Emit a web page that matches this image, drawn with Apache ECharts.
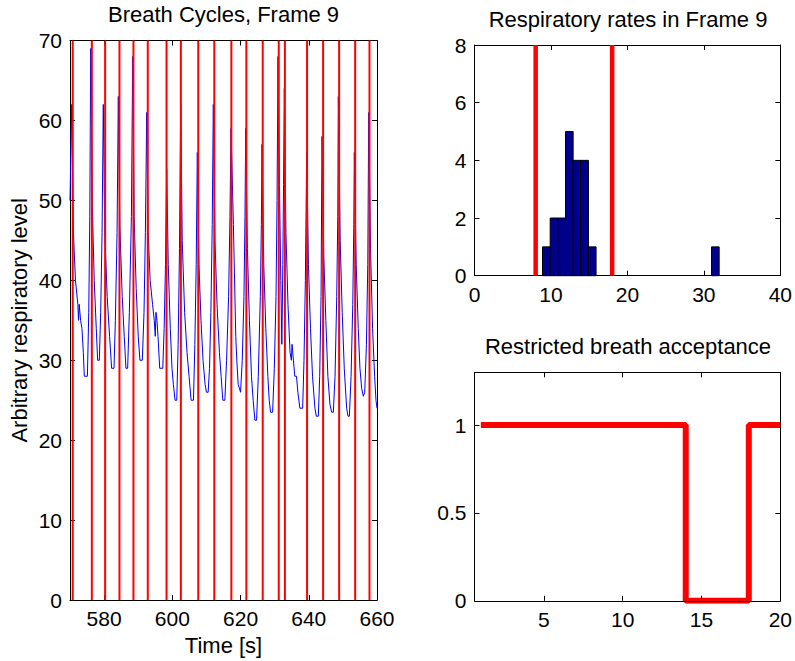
<!DOCTYPE html>
<html><head><meta charset="utf-8">
<script src="https://cdn.jsdelivr.net/npm/echarts@6/dist/echarts.min.js"></script>
<style>html,body{margin:0;padding:0;background:#fff}#c{width:795px;height:661px}</style>
</head><body><div id="c"></div>
<script>
// ---- data ----
const breathTime = [570.0,570.5,571.0,571.6,572.3,572.5,572.7,573.1,573.5,573.9,574.2,575.1,575.5,575.8,
576.07,576.5,577.1,577.7,578.1,578.6,579.0,579.4,
579.76,580.2,580.9,581.6,582.2,582.9,583.3,583.8,
584.16,584.6,585.3,585.9,586.4,586.9,587.4,588.0,
588.38,588.8,589.4,590.0,590.5,591.2,591.7,592.1,
592.49,592.9,593.5,594.2,594.7,595.0,595.2,595.5,595.8,596.3,597.2,597.6,598.0,
598.35,598.8,599.4,599.9,600.3,600.8,601.3,601.7,602.1,
602.45,602.9,603.6,604.3,604.9,605.5,606.2,606.6,607.0,
607.32,607.8,608.4,609.0,609.6,610.0,610.5,610.9,611.3,611.7,
612.01,612.5,613.1,613.8,614.3,614.8,615.4,615.9,616.5,616.9,
617.2,617.9,618.6,618.9,619.3,620.0,620.5,621.0,621.3,
621.51,622.0,622.6,623.2,623.7,624.2,624.7,625.2,625.8,626.1,
626.29,626.8,627.4,628.0,628.4,628.8,629.4,629.9,630.4,630.7,
630.98,631.4,631.8,632.1,632.4,632.6,
632.83,633.3,633.9,634.5,634.9,635.1,635.5,635.9,636.4,636.8,637.4,638.2,638.6,639.0,
639.39,639.9,640.5,641.1,641.8,642.2,642.8,643.2,643.6,
643.88,644.4,645.0,645.6,646.2,646.7,647.2,647.7,648.2,648.5,
648.66,649.2,649.8,650.4,651.1,651.5,651.9,652.4,652.9,653.2,
653.35,653.9,654.5,655.0,655.5,656.0,656.4,656.9,657.3,
657.57,658.1,658.7,659.3,659.7,660.0];
const breathLevel = [50,62,46,40,37,35,37,35,34,31,28,28,36,48,
69,50,40,34,30,30,36,46,
62,46,38,33,29,29,35,46,
63,47,38,33,29,29,36,48,
68,48,39,33,30,30,36,46,
61,46,40,37,35,33,36,35,33,29,29,34,42,
54,42,34,29,27,25,25,32,44,
62,45,36,31,28,25,25,32,42,
56,42,35,30,27,26,26,29,36,47,
62,45,37,31,28,25,25,30,38,48,
59,47,33,30,27,26,30,38,48,
59,44,35,28,25,22.5,22.5,28,38,47,
57,42,34,28,25,23.5,23.5,29,38,50,
68,52,40,32,42,52,
64,46,37,31,30,32,30,28,28,26,24,24,30,40,
56,42,34,28,24,23,23,28,38,
58,43,35,28,24.5,23.5,23.5,28,38,48,
63,45,36,29,24,23,23,28,37,47,
56,42,34,29,26.5,25.5,26,32,42,
61,44,34,28,25,24];
const cycleMarks = [570.8,576.4,580.3,584.5,588.6,592.8,598.3,602.5,607.6,612.3,617.3,621.7,626.5,631.2,633.0,639.5,644.2,648.9,653.6,657.8];
const timeTicks = [580,600,620,640,660];

const histLeft  = [8.9, 9.9, 10.9, 11.9, 12.9, 13.9, 14.9, 31.0];
const histRight = [9.9, 10.9, 11.9, 12.9, 13.9, 14.9, 15.9, 32.0];
const histCount = [1, 2, 2, 5, 4, 4, 1, 1];
const rateLimits = [8, 18];

const breathIndex = [1,2,3,4,5,6,7,8,9,10,11,12,13,14,15,16,17,18,19,20];
const accepted    = [1,1,1,1,1,1,1,1,1,1,1,1,1,0,0,0,0,1,1,1];
const acceptXTicks = [5,10,15,20];
const acceptYTicks = [0,0.5,1];

// ---- chart ----
const FONT = "'Liberation Sans', Arial, sans-serif";
const chart = echarts.init(document.getElementById('c'), null, {renderer: 'svg'});

function axisBase(extra) {
  return Object.assign({
    type: 'value',
    axisLine: {show: true, onZero: false, lineStyle: {color: '#000', width: 1}},
    axisTick: {show: true, inside: true, length: 5, lineStyle: {color: '#000', width: 1}},
    splitLine: {show: false},
    axisLabel: {show: true, color: '#000', fontSize: 21, fontFamily: FONT, margin: 8},
    nameTextStyle: {color: '#000', fontSize: 22, fontFamily: FONT}
  }, extra);
}
function mirror(base, pos) {
  const a = JSON.parse(JSON.stringify(base));
  a.position = pos;
  a.axisLabel = {show: false};
  delete a.name;
  return a;
}

const x0 = axisBase({gridIndex: 0, min: 570, max: 660, position: 'bottom',
  axisTick: {show: true, inside: true, length: 5, customValues: timeTicks, lineStyle: {color: '#000'}},
  axisLabel: {color: '#000', fontSize: 21, fontFamily: FONT, margin: 8, customValues: timeTicks},
  name: 'Time [s]', nameLocation: 'middle', nameGap: 32});
const x1 = axisBase({gridIndex: 1, min: 0, max: 40, interval: 10, position: 'bottom'});
const x2 = axisBase({gridIndex: 2, min: 0.6, max: 20, position: 'bottom', z: 5,
  axisTick: {show: true, inside: true, length: 5, customValues: acceptXTicks, lineStyle: {color: '#000'}},
  axisLabel: {color: '#000', fontSize: 21, fontFamily: FONT, margin: 8, customValues: acceptXTicks}});
const y0 = axisBase({gridIndex: 0, min: 0, max: 70, interval: 10, position: 'left',
  name: 'Arbitrary respiratory level', nameLocation: 'middle', nameGap: 40});
const y1 = axisBase({gridIndex: 1, min: 0, max: 8, interval: 2, position: 'left'});
const y2 = axisBase({gridIndex: 2, min: 0, max: 1.3, position: 'left',
  axisTick: {show: true, inside: true, length: 5, customValues: acceptYTicks, lineStyle: {color: '#000'}},
  axisLabel: {color: '#000', fontSize: 21, fontFamily: FONT, margin: 8, customValues: acceptYTicks}});

function vline(width) {
  return function (params, api) {
    const x = api.coord([api.value(0), 0])[0];
    const cs = params.coordSys;
    return {type: 'line', shape: {x1: x, y1: cs.y, x2: x, y2: cs.y + cs.height},
      style: {stroke: '#ff0000', lineWidth: width}};
  };
}

chart.setOption({
  animation: false,
  backgroundColor: '#fff',
  title: [
    {text: 'Breath Cycles, Frame 9', left: 223.5, top: 3, textAlign: 'center', padding: 0,
     textStyle: {fontSize: 22, fontWeight: 'normal', color: '#000', fontFamily: FONT}},
    {text: 'Respiratory rates in Frame 9', left: 628, top: 8, textAlign: 'center', padding: 0,
     textStyle: {fontSize: 22, fontWeight: 'normal', color: '#000', fontFamily: FONT}},
    {text: 'Restricted breath acceptance', left: 628, top: 335, textAlign: 'center', padding: 0,
     textStyle: {fontSize: 22, fontWeight: 'normal', color: '#000', fontFamily: FONT}}
  ],
  grid: [
    {left: 70, top: 40.5, width: 307, height: 561.5},
    {left: 474.5, top: 45, width: 307, height: 230.7},
    {left: 474.5, top: 372.3, width: 307, height: 228.5}
  ],
  xAxis: [x0, mirror(x0, 'top'), x1, mirror(x1, 'top'), x2, mirror(x2, 'top')]
    .map((a, i) => Object.assign(a, {gridIndex: Math.floor(i / 2)})),
  yAxis: [y0, mirror(y0, 'right'), y1, mirror(y1, 'right'), y2, mirror(y2, 'right')]
    .map((a, i) => Object.assign(a, {gridIndex: Math.floor(i / 2)})),
  series: [
    {type: 'line', xAxisIndex: 0, yAxisIndex: 0, z: 2,
     data: breathTime.map((t, i) => [t, breathLevel[i]]),
     showSymbol: false, symbol: 'none',
     lineStyle: {color: '#0000ff', width: 1}},
    {type: 'custom', xAxisIndex: 0, yAxisIndex: 0, z: 3,
     data: cycleMarks.map(t => [t, 0]), renderItem: vline(2)},
    {type: 'custom', xAxisIndex: 2, yAxisIndex: 2, z: 2,
     data: histLeft.map((l, i) => [l, histRight[i], histCount[i]]),
     encode: {x: [0, 1], y: 2},
     renderItem: function (params, api) {
       const p0 = api.coord([api.value(0), 0]);
       const p1 = api.coord([api.value(1), api.value(2)]);
       return {type: 'rect', shape: {x: p0[0], y: p1[1], width: p1[0] - p0[0], height: p0[1] - p1[1]},
         style: {fill: '#00008f', stroke: '#000', lineWidth: 1}};
     }},
    {type: 'custom', xAxisIndex: 2, yAxisIndex: 2, z: 3,
     data: rateLimits.map(v => [v, 0]), renderItem: vline(4.5)},
    {type: 'line', xAxisIndex: 4, yAxisIndex: 4, z: 2, step: 'end',
     data: breathIndex.map((k, i) => [k, accepted[i]]),
     showSymbol: false, symbol: 'none',
     lineStyle: {color: '#ff0000', width: 6}}
  ]
});
</script></body></html>
